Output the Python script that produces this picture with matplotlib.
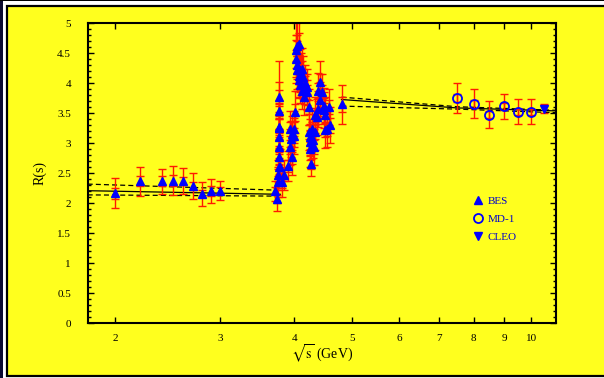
import matplotlib
matplotlib.use("Agg")
import matplotlib.pyplot as plt
from matplotlib.patches import Rectangle
from matplotlib.ticker import FixedLocator, NullLocator, MultipleLocator

plt.rcParams['font.family'] = ['Liberation Serif', 'DejaVu Serif']
plt.rcParams['mathtext.fontset'] = 'stix'

# --------- data ---------
# BES (energy, R, total error, stat error)
bes_E = [2.0, 2.2, 2.4, 2.5, 2.6, 2.7, 2.8, 2.9, 3.0,
         3.71, 3.74, 3.75, 3.76, 3.765, 3.77, 3.77, 3.77, 3.772, 3.768, 3.775, 3.773, 3.79,
         3.81, 3.85, 3.90, 3.94, 3.96, 3.95, 3.96, 3.94, 3.99, 3.99, 4.01,
         4.02, 4.03, 4.05, 4.07, 4.04, 4.04, 4.09, 4.07, 4.11, 4.12, 4.14, 4.07, 4.09,
         4.17, 4.12, 4.20, 4.15, 4.20,
         4.23, 4.23, 4.25, 4.25, 4.25, 4.26, 4.28, 4.30, 4.31, 4.34, 4.34, 4.37,
         4.39, 4.42, 4.45, 4.42, 4.39, 4.48, 4.48, 4.51, 4.57, 4.54, 4.60, 4.51, 4.81]
bes_R = [2.17, 2.37, 2.37, 2.38, 2.37, 2.29, 2.16, 2.21, 2.21,
         2.21, 2.07, 2.36, 2.47, 2.61, 2.77, 2.94, 3.10, 3.26, 3.28, 3.54, 3.78, 2.60,
         2.36, 2.47, 2.63, 2.94, 2.77, 3.08, 3.16, 3.24, 3.13, 3.24, 3.52,
         4.41, 4.55, 4.63, 4.66, 4.30, 4.22, 4.22, 4.13, 4.16, 4.24, 4.10, 4.05, 3.97,
         4.00, 3.88, 3.94, 3.77, 3.86,
         3.61, 3.19, 3.10, 3.02, 2.91, 2.66, 3.24, 3.05, 2.94, 3.19, 3.47, 3.44,
         3.88, 4.02, 3.86, 3.72, 3.58, 3.63, 3.55, 3.47, 3.61, 3.24, 3.30, 3.22, 3.65]
bes_tot = [0.25, 0.24, 0.21, 0.24, 0.22, 0.21, 0.20, 0.20, 0.16,
           0.17, 0.19, 0.25, 0.25, 0.30, 0.30, 0.30, 0.35, 0.40, 0.35, 0.35, 0.60, 0.30,
           0.25, 0.25, 0.25, 0.30, 0.30, 0.30, 0.30, 0.30, 0.30, 0.30, 0.35,
           0.40, 0.45, 0.45, 0.45, 0.40, 0.35, 0.35, 0.35, 0.35, 0.35, 0.35, 0.30, 0.30,
           0.30, 0.30, 0.30, 0.30, 0.30,
           0.30, 0.30, 0.30, 0.30, 0.30, 0.20, 0.30, 0.30, 0.30, 0.30, 0.30, 0.30,
           0.30, 0.35, 0.30, 0.30, 0.30, 0.30, 0.30, 0.30, 0.30, 0.30, 0.30, 0.30, 0.33]
bes_stat = [0.09, 0.08, 0.08, 0.09, 0.07, 0.07, 0.06, 0.08, 0.06,
            0.06, 0.07, 0.10, 0.10, 0.12, 0.12, 0.12, 0.14, 0.15, 0.14, 0.14, 0.25, 0.10,
            0.10, 0.10, 0.10, 0.12, 0.12, 0.12, 0.12, 0.12, 0.12, 0.12, 0.14,
            0.15, 0.18, 0.18, 0.18, 0.15, 0.14, 0.14, 0.14, 0.14, 0.14, 0.14, 0.12, 0.12,
            0.12, 0.12, 0.12, 0.12, 0.12,
            0.12, 0.12, 0.12, 0.12, 0.12, 0.08, 0.12, 0.12, 0.12, 0.12, 0.12, 0.12,
            0.12, 0.14, 0.12, 0.12, 0.12, 0.12, 0.12, 0.12, 0.12, 0.12, 0.12, 0.12, 0.12]

# MD-1
md1_E = [7.5, 8.0, 8.5, 9.0, 9.5, 10.0]
md1_R = [3.76, 3.66, 3.48, 3.62, 3.53, 3.53]
md1_tot = [0.25, 0.24, 0.22, 0.21, 0.21, 0.21]
md1_stat = [0.07, 0.07, 0.06, 0.06, 0.05, 0.05]

# CLEO
cleo_E = [10.52]
cleo_R = [3.58]
cleo_tot = [0.07]

# theory curves (central, upper, lower)
low_E = [1.8, 3.79]
low_mid = [2.21, 2.15]
low_bandE = [1.8, 3.72]
low_up = [2.32, 2.22]
low_dn = [2.14, 2.12]
high_E = [4.8, 7.5, 11.0]
high_mid = [3.73, 3.59, 3.54]
high_up = [3.77, 3.61, 3.55]
high_dn = [3.62, 3.57, 3.51]

xticks = [2, 3, 4, 5, 6, 7, 8, 9, 10]
yticks = [0, 0.5, 1, 1.5, 2, 2.5, 3, 3.5, 4, 4.5, 5]
ylabels = ['0', '0.5', '1', '1.5', '2', '2.5', '3', '3.5', '4', '4.5', '5']

# --------- figure ---------
fig = plt.figure(figsize=(6.04, 3.78), dpi=100, facecolor='white')
fig.patches.append(Rectangle((0, 0), 2.5 / 604, 1, transform=fig.transFigure,
                             facecolor='#0a0a30', edgecolor='none', zorder=-10))
fig.patches.append(Rectangle((0, 377 / 378), 1, 1 / 378, transform=fig.transFigure,
                             facecolor='black', edgecolor='none', zorder=-10))
fig.patches.append(Rectangle((7 / 604, 2 / 378), 1.1, 370.5 / 378, transform=fig.transFigure,
                             facecolor='#ffff1e', edgecolor='black', linewidth=1.6,
                             zorder=-10))

ax = fig.add_axes([87.7 / 604, 1 - 323.3 / 378, (556 - 87.7) / 604, 300 / 378])
ax.set_facecolor('#ffff1e')
ax.set_xscale('log')
ax.set_xlim(1.8, 11.0)
ax.set_ylim(0, 5)

ec = '#ff1a00'
# total errors (outer caps) and stat errors (inner caps)
ax.errorbar(bes_E, bes_R, yerr=bes_tot, fmt='none', ecolor=ec, elinewidth=1.0,
            capsize=2.8, capthick=1.0, zorder=2)
ax.errorbar(bes_E, bes_R, yerr=bes_stat, fmt='none', ecolor=ec, elinewidth=1.0,
            capsize=2.8, capthick=1.0, zorder=2)
ax.errorbar(md1_E, md1_R, yerr=md1_tot, fmt='none', ecolor=ec, elinewidth=1.0,
            capsize=2.8, capthick=1.0, zorder=2)
ax.errorbar(md1_E, md1_R, yerr=md1_stat, fmt='none', ecolor=ec, elinewidth=1.0,
            capsize=2.8, capthick=1.0, zorder=2)
ax.errorbar(cleo_E, cleo_R, yerr=cleo_tot, fmt='none', ecolor=ec, elinewidth=1.0,
            capsize=2.8, capthick=1.0, zorder=2)

# theory lines
ax.plot(low_E, low_mid, color='black', lw=0.9, zorder=1)
ax.plot(low_bandE, low_up, color='black', lw=0.9, ls=(0, (4, 2.5)), zorder=1)
ax.plot(low_bandE, low_dn, color='black', lw=0.9, ls=(0, (4, 2.5)), zorder=1)
ax.plot(high_E, high_mid, color='black', lw=0.9, zorder=1)
ax.plot(high_E, high_up, color='black', lw=0.9, ls=(0, (4, 2.5)), zorder=1)
ax.plot(high_E, high_dn, color='black', lw=0.9, ls=(0, (4, 2.5)), zorder=1)

b, = ax.plot(bes_E, bes_R, ls='none', marker='^', ms=6, color='#0000ff', zorder=3)
m, = ax.plot(md1_E, md1_R, ls='none', marker='o', ms=6.5, mfc='none', mec='#0000ff',
             mew=1.3, zorder=3)
c, = ax.plot(cleo_E, cleo_R, ls='none', marker='v', ms=6, color='#0000ff', zorder=3)

leg = ax.legend([b, m, c], ['BES', 'MD-1', 'CLEO'], loc='upper left',
                bbox_to_anchor=(0.8, 0.457), frameon=False, fontsize=8,
                handlelength=1.0, handletextpad=0.4, labelspacing=0.75)
for t in leg.get_texts():
    t.set_color('#0000cc')

# axes styling
for s in ax.spines.values():
    s.set_linewidth(1.5)
ax.xaxis.set_major_locator(FixedLocator(xticks))
ax.xaxis.set_minor_locator(NullLocator())
ax.set_xticklabels([str(v) for v in xticks])
ax.yaxis.set_major_locator(FixedLocator(yticks))
ax.yaxis.set_minor_locator(MultipleLocator(0.1))
ax.set_yticklabels(ylabels)
ax.tick_params(which='both', direction='in', top=True, right=True, labelsize=8,
               width=1.0, colors='black')
ax.tick_params(which='major', length=4)
ax.tick_params(which='minor', length=2.2)
ax.tick_params(axis='y', pad=12)
ax.tick_params(axis='x', pad=8)

ax.set_xlabel(r'$\sqrt{\mathrm{s}}$ (GeV)', fontsize=10, labelpad=0)
ax.set_ylabel('R(s)', fontsize=10, labelpad=7.5)

fig.savefig('out.png', dpi=100, facecolor=fig.get_facecolor())
